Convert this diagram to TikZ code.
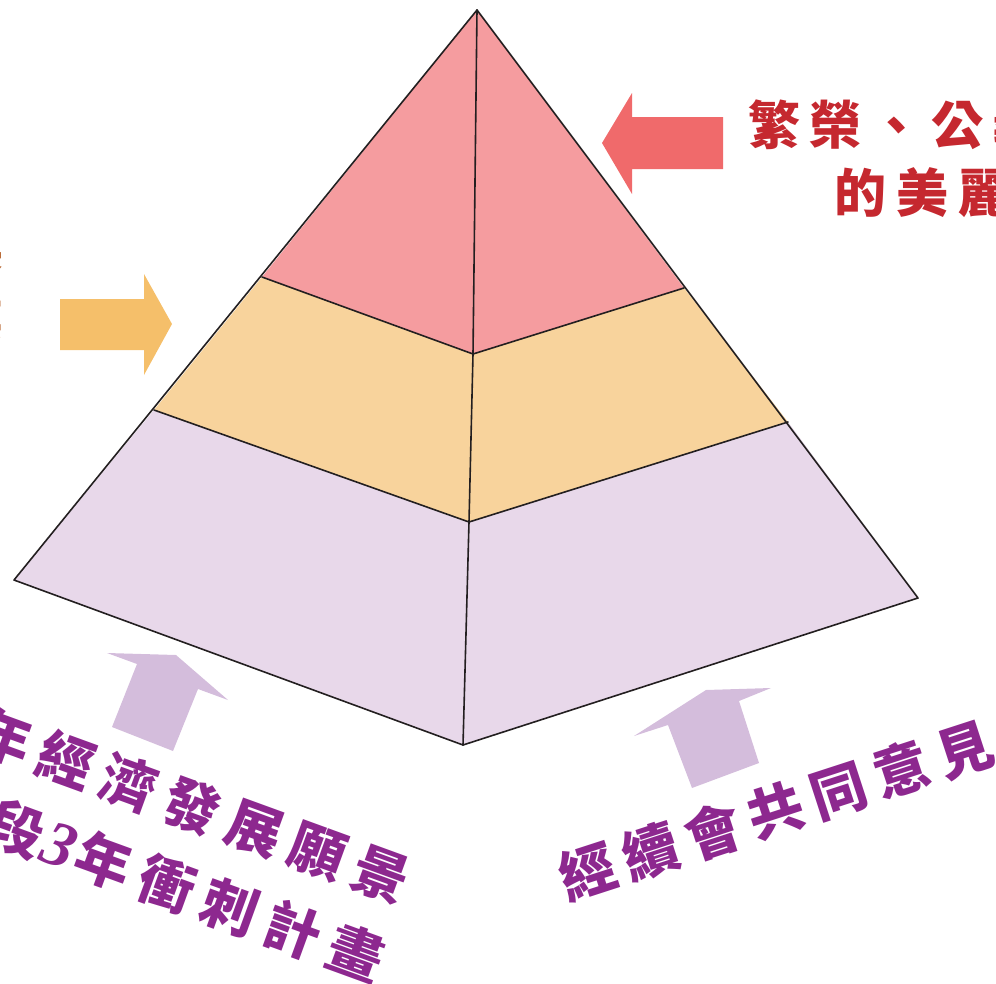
\documentclass[tikz,border=0pt]{standalone}
\usepackage{fontspec}
\newfontfamily\cjk{Noto Sans CJK TC}
\newfontfamily\numfont{Liberation Serif}
\newlength\cellw
\newcommand\cc[1]{\makebox[\cellw][c]{#1}}
\definecolor{pinkface}{HTML}{F59C9F}
\definecolor{orangeface}{HTML}{F8D39C}
\definecolor{lavface}{HTML}{E8D8EA}
\definecolor{redarrow}{HTML}{F06A6B}
\definecolor{orangearrow}{HTML}{F5BF6A}
\definecolor{purplearrow}{HTML}{D4BDDC}
\definecolor{redtext}{HTML}{C5282F}
\definecolor{purpletext}{HTML}{8D288F}
\definecolor{browntext}{HTML}{B45F28}
\definecolor{edge}{HTML}{231F20}
\tikzset{
  edgeline/.style={draw=edge, line width=1.6pt, line join=round, line cap=round},
  redlabel/.style={font={\cjk\bfseries\fontsize{52}{60}\selectfont}, text=redtext, inner sep=0pt},
  purplelabel/.style={font={\cjk\bfseries\fontsize{56}{64}\selectfont}, text=purpletext, inner sep=0pt},
  brownlabel/.style={font={\cjk\bfseries\fontsize{52}{60}\selectfont}, text=browntext, inner sep=0pt},
}
\begin{document}
\begin{tikzpicture}[x=1pt, y=-1pt]
\useasboundingbox (0,0) rectangle (996,983);
\clip (0,0) rectangle (996,983);
% pyramid points
\coordinate (A) at (477,10);
\coordinate (L1) at (262,277);
\coordinate (M1) at (473,354);
\coordinate (R1) at (684,288);
\coordinate (L2) at (154,410);
\coordinate (M2) at (469,522);
\coordinate (R2) at (788,422);
\coordinate (L0) at (14,580);
\coordinate (B) at (463,745);
\coordinate (R0) at (918,598);
% faces
\fill[pinkface] (A) -- (L1) -- (M1) -- (R1) -- cycle;
\fill[orangeface] (L1) -- (M1) -- (R1) -- (R2) -- (M2) -- (L2) -- cycle;
\fill[lavface] (L2) -- (M2) -- (R2) -- (R0) -- (B) -- (L0) -- cycle;
% edges
\draw[edgeline] (A) -- (L0) -- (B) -- (R0) -- cycle;
\draw[edgeline] (A) -- (M1) -- (M2) -- (B);
\draw[edgeline] (L1) -- (M1) -- (R1);
\draw[edgeline] (L2) -- (M2) -- (R2);
% arrows
\fill[redarrow] (602,143) -- (632,93) -- (632,117) -- (723,117) -- (723,169) -- (632,169) -- (632,194) -- cycle;
\fill[orangearrow] (172,324) -- (144,274) -- (144,299) -- (60,299) -- (60,350) -- (144,350) -- (144,375) -- cycle;
\fill[purplearrow] (176,655) -- (228,700) -- (198,689) -- (173,751) -- (112,727) -- (137,664) -- (107,653) -- cycle;
\fill[purplearrow] (634,736) -- (706,690) -- (771,688) -- (739,701) -- (759,763) -- (692,788) -- (668,725) -- cycle;
% texts
\node[redlabel, anchor=west] (top1) at (744,125) {\setlength\cellw{61pt}\cc{繁}\cc{榮}\cc{、}\cc{公}\cc{義}};
\node[redlabel, anchor=west] (top2) at (829,193) {\setlength\cellw{62pt}\cc{的}\cc{美}\cc{麗}};
\node[brownlabel, anchor=east] (left1) at (8,250) {\setlength\cellw{60pt}\cc{展}};
\node[brownlabel, anchor=east] (left2) at (8,318) {\setlength\cellw{60pt}\cc{業}};
\node[purplelabel, anchor=east, rotate=-20] (bl1) at (413,886) {\setlength\cellw{67pt}\cc{年}\cc{經}\cc{濟}\cc{發}\cc{展}\cc{願}\cc{景}};
\node[purplelabel, anchor=east, rotate=-20] (bl2) at (388,964) {\setlength\cellw{67pt}\cc{段}\makebox[27pt][c]{\numfont\bfseries\itshape\fontsize{64}{64}\selectfont 3}\cc{年}\cc{衝}\cc{刺}\cc{計}\cc{畫}};
\node[purplelabel, anchor=west, rotate=18] (br) at (556,882) {\setlength\cellw{66pt}\cc{經}\cc{續}\cc{會}\cc{共}\cc{同}\cc{意}\cc{見}};
\end{tikzpicture}
\end{document}
